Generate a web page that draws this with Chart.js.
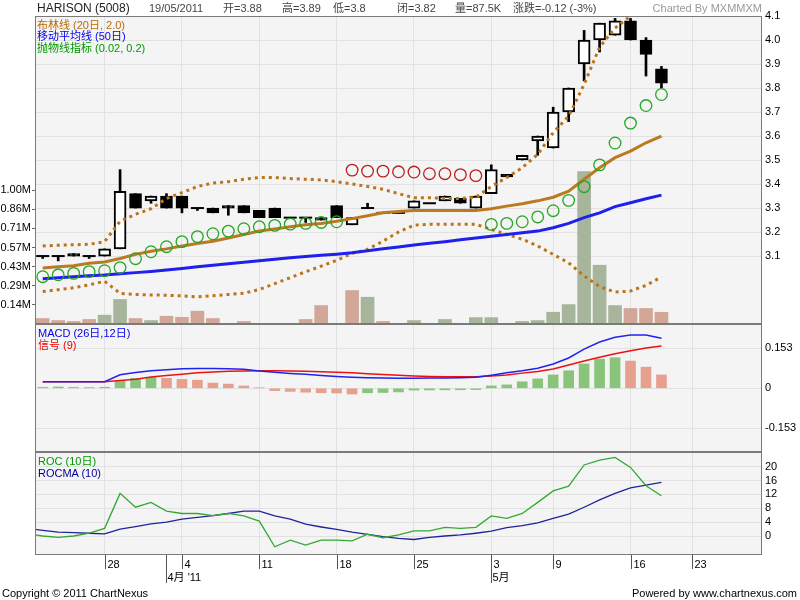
<!DOCTYPE html>
<html>
<head>
<meta charset="utf-8">
<title>HARISON (5008)</title>
<script src="https://cdn.jsdelivr.net/npm/chart.js@4.4.1/dist/chart.umd.min.js"></script>
<style>
    body { margin: 0; background: #fff; }
    #quadro { position: relative; width: 800px; height: 600px; overflow: hidden;
        font-family: "Liberation Sans", Arial, "Noto Sans CJK SC", sans-serif; font-size: 11px; }
    #quadro canvas { position: absolute; left: 0; }
    .txt { position: absolute; white-space: nowrap; line-height: 12px; }
</style>
</head>
<body>
<div id="quadro">
    <canvas id="GraficoPreco" width="800" height="324" style="top:0"></canvas>
    <canvas id="GraficoMacd" width="800" height="128" style="top:324px"></canvas>
    <canvas id="GraficoRoc" width="800" height="148" style="top:452px"></canvas>

    <div class="txt" style="left:37px; top:2px; font-size:12px; color:#222">HARISON (5008)</div>
    <div class="txt" style="left:149px; top:2px; color:#444">19/05/2011</div>
    <div class="txt" style="left:223px; top:2px; color:#444">开=3.88</div>
    <div class="txt" style="left:282px; top:2px; color:#444">高=3.89</div>
    <div class="txt" style="left:333px; top:2px; color:#444">低=3.8</div>
    <div class="txt" style="left:397px; top:2px; color:#444">闭=3.82</div>
    <div class="txt" style="left:455px; top:2px; color:#444">量=87.5K</div>
    <div class="txt" style="left:513px; top:2px; color:#444">涨跌=-0.12 (-3%)</div>
    <div class="txt" style="right:38px; top:2px; color:#999">Charted By MXMMXM</div>

    <div class="txt" style="left:37px; top:19px; color:#b86b00">布林线 (20日, 2.0)</div>
    <div class="txt" style="left:37px; top:30px; color:#0000ee">移动平均线 (50日)</div>
    <div class="txt" style="left:37px; top:42px; color:#009900">抛物线指标 (0.02, 0.2)</div>

    <div class="txt" style="left:38px; top:327px; color:#0000ee">MACD (26日,12日)</div>
    <div class="txt" style="left:38px; top:339px; color:#ee0000">信号 (9)</div>

    <div class="txt" style="left:38px; top:455px; color:#009900">ROC (10日)</div>
    <div class="txt" style="left:38px; top:467px; color:#000099">ROCMA (10)</div>

    <div class="txt" style="left:2px; top:587px; color:#000">Copyright © 2011 ChartNexus</div>
    <div class="txt" style="right:3px; top:587px; color:#000">Powered by www.chartnexus.com</div>
</div>

<script>
// dias de negociacao (o primeiro fica fora da area, os ultimos sao vazios)
var dias = ['21/03', '22/03', '23/03', '24/03', '25/03', '28/03', '29/03', '30/03', '31/03', '01/04',
    '04/04', '05/04', '06/04', '07/04', '08/04', '11/04', '12/04', '13/04', '14/04', '15/04',
    '18/04', '19/04', '20/04', '21/04', '22/04', '25/04', '26/04', '27/04', '28/04', '29/04',
    '03/05', '04/05', '05/05', '06/05', '09/05', '10/05', '11/05', '12/05', '13/05', '16/05',
    '18/05', '19/05', '20/05', '23/05', '24/05', '25/05', '26/05', '27/05'];

var marcasDia = ['28/03', '04/04', '11/04', '18/04', '25/04', '03/05', '09/05', '16/05', '23/05'];
var rotulosDia = ['28', '4', '11', '18', '25', '3', '9', '16', '23'];
var marcasMes = ['01/04', '03/05'];
var rotulosMes = ["4月 '11", '5月'];

var abre = [null, 3.10, 3.10, 3.11, 3.10, 3.10, 3.13, 3.36, 3.33, 3.35, 3.35, 3.30, 3.30, 3.31, 3.31, 3.29, 3.30, 3.26, 3.26, 3.26, 3.31,
    3.23, 3.30, 3.28, 3.28, 3.30, 3.32, 3.33, 3.34, 3.30, 3.36, 3.44, 3.50, 3.58, 3.55, 3.70, 3.90, 4.00, 4.02, 4.08, 4.00, 3.88];
var maxima = [null, 3.10, 3.10, 3.11, 3.10, 3.13, 3.46, 3.36, 3.35, 3.36, 3.35, 3.30, 3.30, 3.31, 3.31, 3.29, 3.30, 3.26, 3.26, 3.26, 3.31,
    3.26, 3.32, 3.28, 3.28, 3.33, 3.32, 3.35, 3.34, 3.35, 3.48, 3.44, 3.52, 3.60, 3.72, 3.80, 4.04, 4.07, 4.09, 4.09, 4.01, 3.89];
var minima = [null, 3.09, 3.08, 3.10, 3.09, 3.10, 3.13, 3.30, 3.32, 3.30, 3.28, 3.29, 3.28, 3.27, 3.28, 3.26, 3.26, 3.26, 3.24, 3.25, 3.26,
    3.23, 3.30, 3.28, 3.28, 3.30, 3.32, 3.33, 3.32, 3.30, 3.36, 3.43, 3.50, 3.52, 3.55, 3.66, 3.83, 3.95, 4.02, 4.00, 3.85, 3.80];
var fecho = [null, 3.10, 3.10, 3.10, 3.10, 3.13, 3.37, 3.30, 3.35, 3.30, 3.30, 3.30, 3.28, 3.30, 3.28, 3.26, 3.26, 3.26, 3.26, 3.25, 3.26,
    3.26, 3.30, 3.28, 3.28, 3.33, 3.32, 3.35, 3.32, 3.35, 3.46, 3.43, 3.52, 3.60, 3.70, 3.80, 4.00, 4.07, 4.08, 4.00, 3.94, 3.82];

// volume em milhoes
var volume = [null, 0.041, 0.026, 0.019, 0.034, 0.066, 0.183, 0.041, 0.026, 0.058, 0.05, 0.096, 0.041, 0, 0.019, 0, 0, 0, 0.034, 0.138, 0,
    0.25, 0.20, 0.019, 0, 0.026, 0, 0.034, 0, 0.048, 0.048, 0, 0.019, 0.026, 0.088, 0.145, 1.138, 0.439, 0.138, 0.116, 0.116, 0.0875];

var bollMeio = [null, 3.05, 3.055, 3.06, 3.07, 3.075, 3.09, 3.107, 3.12, 3.13, 3.142, 3.152, 3.162, 3.175, 3.19, 3.204, 3.213, 3.222, 3.23, 3.236, 3.245,
    3.256, 3.268, 3.28, 3.286, 3.29, 3.29, 3.29, 3.29, 3.29, 3.297, 3.308, 3.318, 3.33, 3.345, 3.37, 3.42, 3.468, 3.51, 3.537, 3.572, 3.60];
var bollSup = [null, 3.142, 3.145, 3.147, 3.149, 3.16, 3.245, 3.274, 3.297, 3.34, 3.364, 3.39, 3.404, 3.41, 3.42, 3.427, 3.427, 3.423, 3.42, 3.417, 3.41,
    3.40, 3.39, 3.378, 3.36, 3.343, 3.343, 3.34, 3.34, 3.345, 3.39, 3.427, 3.468, 3.524, 3.614, 3.683, 3.815, 3.97, 4.05, 4.10, 4.15, 4.18];
var bollInf = [null, 2.952, 2.96, 2.968, 2.98, 2.995, 2.945, 2.94, 2.938, 2.937, 2.934, 2.93, 2.935, 2.94, 2.945, 2.961, 2.985, 3.01, 3.035, 3.058, 3.082,
    3.111, 3.128, 3.162, 3.20, 3.229, 3.232, 3.232, 3.232, 3.232, 3.211, 3.19, 3.17, 3.142, 3.107, 3.072, 3.017, 2.973, 2.95, 2.954, 2.978, 3.013];
var media50 = [null, 3.006, 3.01, 3.014, 3.018, 3.021, 3.026, 3.031, 3.036, 3.042, 3.048, 3.055, 3.062, 3.068, 3.074, 3.08, 3.087, 3.093, 3.098, 3.103, 3.108,
    3.114, 3.122, 3.13, 3.138, 3.146, 3.153, 3.16, 3.168, 3.175, 3.183, 3.19, 3.197, 3.204, 3.218, 3.236, 3.26, 3.28, 3.306, 3.322, 3.339, 3.354];
var sar = [null, 3.014, 3.022, 3.028, 3.035, 3.039, 3.052, 3.089, 3.118, 3.139, 3.16, 3.181, 3.193, 3.204, 3.214, 3.222, 3.228, 3.233, 3.236, 3.24, 3.243,
    3.458, 3.454, 3.454, 3.451, 3.45, 3.443, 3.443, 3.439, 3.435, 3.232, 3.236, 3.243, 3.263, 3.289, 3.332, 3.389, 3.48, 3.571, 3.654, 3.727, 3.773];

var macd = [null, 0.025, 0.025, 0.025, 0.025, 0.025, 0.052, 0.06, 0.067, 0.071, 0.075, 0.076, 0.076, 0.075, 0.073, 0.066, 0.061, 0.057, 0.054, 0.049, 0.045,
    0.042, 0.04, 0.039, 0.038, 0.038, 0.039, 0.039, 0.04, 0.042, 0.05, 0.059, 0.067, 0.077, 0.093, 0.116, 0.15, 0.177, 0.195, 0.204, 0.204, 0.191];
var sinal = [null, 0.025, 0.025, 0.025, 0.025, 0.025, 0.03, 0.035, 0.043, 0.049, 0.054, 0.059, 0.062, 0.065, 0.066, 0.067, 0.067, 0.066, 0.065, 0.063, 0.061,
    0.059, 0.056, 0.053, 0.05, 0.047, 0.045, 0.044, 0.044, 0.044, 0.047, 0.051, 0.058, 0.064, 0.074, 0.089, 0.104, 0.119, 0.132, 0.144, 0.154, 0.162];
var histograma = [null, 0.004, 0.005, 0.004, 0.003, 0.004, 0.029, 0.038, 0.042, 0.038, 0.034, 0.031, 0.02, 0.016, 0.009, 0.002, -0.009, -0.012, -0.015, -0.017, -0.018,
    -0.022, -0.017, -0.016, -0.014, -0.007, -0.0065, -0.006, -0.0055, -0.005, 0.009, 0.013, 0.025, 0.036, 0.051, 0.067, 0.093, 0.112, 0.117, 0.104, 0.081, 0.051];

var roc = [0.6, 0.0, -0.4, 0.0, 0.8, 2.2, 12.3, 8.3, 9.7, 7.2, 6.5, 6.5, 5.9, 6.5, 5.8, 4.3, -3.1, -1.2, -2.6, -1.2, -1.2,
    -1.4, 0.5, -0.5, 0.3, 1.5, 1.5, 2.5, 2.2, 2.5, 5.8, 5.1, 6.5, 9.7, 13.0, 14.4, 20.5, 21.9, 22.7, 19.8, 14.5, 11.6];
var rocma = [2.2, 1.6, 1.1, 0.95, 0.8, 0.6, 2.0, 2.7, 3.5, 4.0, 4.9, 5.4, 5.9, 6.5, 7.2, 7.2, 5.8, 4.9, 3.4, 2.6, 1.9,
    1.1, 0.5, -0.2, -0.7, -1.0, -0.4, 0, 0.3, 0.8, 1.4, 2.4, 3.0, 3.8, 5.1, 6.3, 8.3, 10.4, 12.3, 13.9, 14.7, 15.5];

var precoTicks = [3.1, 3.2, 3.3, 3.4, 3.5, 3.6, 3.7, 3.8, 3.9, 4.0, 4.1];
var volTicks = [0.143, 0.286, 0.429, 0.571, 0.714, 0.857, 1.0];
var macdTicks = [-0.153, 0, 0.153];
var rocTicks = [0, 4, 8, 12, 16, 20];

var verdeVol = '#a7b69b', rosaVol = '#d3a797';
var verdeHist = '#88c57a', rosaHist = '#e8a08e';

Chart.defaults.font.family = '"Liberation Sans", Arial, "Noto Sans CJK SC", sans-serif';
Chart.defaults.font.size = 11;
Chart.defaults.color = '#000';
Chart.defaults.animation = false;
Chart.defaults.plugins.legend.display = false;
Chart.defaults.plugins.tooltip.enabled = false;

function pontos(serie) {
    var out = [];
    serie.forEach(function (v, k) {
        if (v !== null) out.push({ x: k, y: v });
    });
    return out;
}

function fixarTicks(lista) {
    return function (s) {
        s.ticks = lista.map(function (v) { return { value: v }; });
    };
}

// sem margem extra para os rotulos: a area fica onde foi pedida
function semMargem(s) {
    s.paddingTop = 0;
    s.paddingBottom = 0;
    s.paddingLeft = 0;
    s.paddingRight = 0;
}

function eixoX() {
    return {
        type: 'linear',
        min: 0.5,
        max: dias.length - 0.5,
        offset: false,
        afterBuildTicks: fixarTicks(marcasDia.map(function (d) { return dias.indexOf(d); })),
        afterFit: function (s) { s.height = 0; semMargem(s); },
        ticks: { display: false },
        grid: { color: '#e1e1e1', offset: false, drawTicks: false },
        border: { display: false }
    };
}

function eixoDireita(min, max, lista, formato) {
    return {
        position: 'right',
        min: min,
        max: max,
        afterBuildTicks: fixarTicks(lista),
        afterFit: function (s) { s.width = 38; semMargem(s); },
        ticks: { padding: 3, callback: formato },
        grid: { color: '#e1e1e1', drawTicks: false },
        border: { display: false }
    };
}

var moldura = {
    id: 'moldura',
    beforeDraw: function (chart) {
        var a = chart.chartArea, c = chart.ctx;
        c.save();
        c.fillStyle = '#f4f4f4';
        c.fillRect(a.left, a.top, a.right - a.left, a.bottom - a.top);
        c.restore();
    },
    afterDraw: function (chart) {
        var a = chart.chartArea, c = chart.ctx;
        c.save();
        c.strokeStyle = '#7a7a7a';
        c.lineWidth = 1;
        c.strokeRect(a.left + 0.5, a.top + 0.5, a.right - a.left - 1, a.bottom - a.top - 1);
        c.restore();
    }
};

var eixoDatas = {
    id: 'eixoDatas',
    afterDraw: function (chart) {
        var c = chart.ctx, esc = chart.scales.x, base = chart.chartArea.bottom;
        c.save();
        c.strokeStyle = '#555';
        c.lineWidth = 1;
        c.fillStyle = '#000';
        c.font = '11px "Liberation Sans", Arial, "Noto Sans CJK SC", sans-serif';
        c.textBaseline = 'middle';
        c.textAlign = 'left';
        marcasDia.forEach(function (d, k) {
            var px = Math.round(esc.getPixelForValue(dias.indexOf(d))) + 0.5;
            c.beginPath(); c.moveTo(px, base); c.lineTo(px, base + 14); c.stroke();
            c.fillText(rotulosDia[k], px + 2, base + 9.5);
        });
        marcasMes.forEach(function (d, k) {
            var px = Math.round(esc.getPixelForValue(dias.indexOf(d))) + 0.5;
            c.beginPath(); c.moveTo(px, base); c.lineTo(px, base + 28); c.stroke();
            c.fillText(rotulosMes[k], px + 1, base + 23);
        });
        c.restore();
    }
};

// velas
var pavios = [], corpos = [], corCorpo = [], dojis = [];
fecho.forEach(function (c, k) {
    if (c === null) return;
    pavios.push({ x: k, y: [minima[k], maxima[k]] });
    if (abre[k] === c) {
        dojis.push({ x: k, y: c });
    } else {
        corpos.push({ x: k, y: [abre[k], c] });
        corCorpo.push(c > abre[k] ? '#ffffff' : '#000000');
    }
});

var barrasVol = [], corVol = [];
volume.forEach(function (v, k) {
    if (!v) return;
    barrasVol.push({ x: k, y: v });
    corVol.push(fecho[k - 1] !== null && fecho[k] > fecho[k - 1] ? verdeVol : rosaVol);
});

var sarBaixo = [], sarCima = [];
sar.forEach(function (v, k) {
    if (v === null) return;
    if (v > fecho[k]) sarCima.push({ x: k, y: v });
    else sarBaixo.push({ x: k, y: v });
});

var barrasHist = [], corHist = [];
histograma.forEach(function (v, k) {
    if (v === null) return;
    barrasHist.push({ x: k, y: v });
    corHist.push(histograma[k - 1] !== null && v > histograma[k - 1] ? verdeHist : rosaHist);
});

var ctx = document.getElementById('GraficoPreco').getContext('2d');
var grafico = new Chart(ctx, {
    type: 'bar',
    data: {
        datasets: [
            { type: 'bar', label: 'Volume', yAxisID: 'yv', data: barrasVol, backgroundColor: corVol, barThickness: 13, grouped: false, order: 10 },
            { type: 'bar', label: 'Pavio', yAxisID: 'yp', data: pavios, backgroundColor: '#000', barThickness: 2, grouped: false, order: 9 },
            { type: 'bar', label: 'Corpo', yAxisID: 'yp', data: corpos, backgroundColor: corCorpo, borderColor: '#000', borderWidth: 2, borderSkipped: false, barThickness: 12, grouped: false, order: 8 },
            { type: 'line', label: 'Doji', yAxisID: 'yp', data: dojis, showLine: false, pointStyle: 'line', pointRadius: 6.5, pointBorderWidth: 2, pointBorderColor: '#000', order: 7 },
            { type: 'line', label: 'Bollinger sup', yAxisID: 'yp', data: pontos(bollSup), borderColor: '#bb7418', borderWidth: 3, borderDash: [3, 4], pointRadius: 0, order: 5 },
            { type: 'line', label: 'Bollinger inf', yAxisID: 'yp', data: pontos(bollInf), borderColor: '#bb7418', borderWidth: 3, borderDash: [3, 4], pointRadius: 0, order: 5 },
            { type: 'line', label: 'Bollinger', yAxisID: 'yp', data: pontos(bollMeio), borderColor: '#bb7a22', borderWidth: 3, pointRadius: 0, order: 5 },
            { type: 'line', label: 'MA50', yAxisID: 'yp', data: pontos(media50), borderColor: '#1f1fee', borderWidth: 3, pointRadius: 0, order: 4 },
            { type: 'line', label: 'SAR', yAxisID: 'yp', data: sarBaixo, showLine: false, pointRadius: 5.8, pointBorderWidth: 1.3, pointBorderColor: '#22a822', pointBackgroundColor: 'rgba(0,0,0,0)', order: 3 },
            { type: 'line', label: 'SAR', yAxisID: 'yp', data: sarCima, showLine: false, pointRadius: 5.8, pointBorderWidth: 1.3, pointBorderColor: '#b82020', pointBackgroundColor: 'rgba(0,0,0,0)', order: 3 }
        ]
    },
    options: {
        responsive: false,
        devicePixelRatio: 1,
        events: [],
        layout: { autoPadding: false, padding: { top: 16, bottom: 0, left: 0, right: 0 } },
        scales: {
            x: eixoX(),
            yp: eixoDireita(2.817, 4.1, precoTicks, function (v) { return v.toFixed(1); }),
            yv: {
                position: 'left',
                min: 0,
                max: 2.3,
                afterBuildTicks: fixarTicks(volTicks),
                afterFit: function (s) { s.width = 35; semMargem(s); },
                ticks: { padding: 1, callback: function (v) { return v.toFixed(2) + 'M'; } },
                grid: { drawOnChartArea: false, drawTicks: true, tickLength: 3, tickColor: '#666' },
                border: { display: false }
            }
        }
    },
    plugins: [moldura]
});

var ctxMacd = document.getElementById('GraficoMacd').getContext('2d');
var graficoMacd = new Chart(ctxMacd, {
    type: 'bar',
    data: {
        datasets: [
            { type: 'bar', label: 'Histograma', data: barrasHist, backgroundColor: corHist, barThickness: 10, grouped: false, order: 5 },
            { type: 'line', label: 'Sinal', data: pontos(sinal), borderColor: '#ee1111', borderWidth: 1.5, pointRadius: 0, order: 3 },
            { type: 'line', label: 'MACD', data: pontos(macd), borderColor: '#2222ee', borderWidth: 1.5, pointRadius: 0, order: 2 }
        ]
    },
    options: {
        responsive: false,
        devicePixelRatio: 1,
        events: [],
        layout: { autoPadding: false, padding: { top: 0, bottom: 0, left: 35, right: 0 } },
        scales: {
            x: eixoX(),
            y: eixoDireita(-0.2437, 0.2459, macdTicks, function (v) { return v === 0 ? '0' : v.toFixed(3); })
        }
    },
    plugins: [moldura]
});

var ctxRoc = document.getElementById('GraficoRoc').getContext('2d');
var graficoRoc = new Chart(ctxRoc, {
    type: 'line',
    data: {
        datasets: [
            { label: 'ROC', data: pontos(roc), borderColor: '#33a833', borderWidth: 1.3, pointRadius: 0 },
            { label: 'ROCMA', data: pontos(rocma), borderColor: '#22229a', borderWidth: 1.3, pointRadius: 0 }
        ]
    },
    options: {
        responsive: false,
        devicePixelRatio: 1,
        events: [],
        layout: { autoPadding: false, padding: { top: 0, bottom: 45, left: 35, right: 0 } },
        scales: {
            x: eixoX(),
            y: eixoDireita(-5.48, 24.24, rocTicks, function (v) { return String(v); })
        }
    },
    plugins: [moldura, eixoDatas]
});
</script>
</body>
</html>
